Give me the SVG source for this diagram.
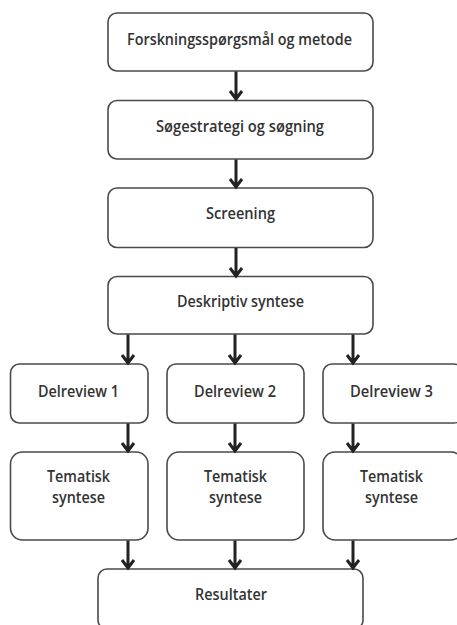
<svg xmlns="http://www.w3.org/2000/svg" width="457" height="625" viewBox="0 0 457 625">
<style>
.box{fill:#ffffff;stroke:#4a4a4a;stroke-width:1.6}
.lbl{font-family:"Open Sans","Liberation Sans",sans-serif;font-size:15.5px;font-weight:600;fill:#333333;text-anchor:middle}
.arr{fill:none;stroke:#222;stroke-width:3;stroke-linejoin:miter}
</style>
<rect width="457" height="625" fill="#ffffff"/>
<g id="n1"><rect class="box" x="108" y="13" width="265" height="58" rx="9"/><text class="lbl" x="239.5" y="44.5" textLength="225" lengthAdjust="spacingAndGlyphs">Forskningsspørgsmål og metode</text></g>
<g id="n2"><rect class="box" x="108" y="100.5" width="265" height="58.5" rx="9"/><text class="lbl" x="240" y="131.5" textLength="168" lengthAdjust="spacingAndGlyphs">Søgestrategi og søgning</text></g>
<g id="n3"><rect class="box" x="108" y="188" width="265" height="59.5" rx="9"/><text class="lbl" x="240.5" y="219" textLength="69" lengthAdjust="spacingAndGlyphs">Screening</text></g>
<g id="n4"><rect class="box" x="108" y="276.5" width="265" height="57.5" rx="9"/><text class="lbl" x="240.5" y="307" textLength="127" lengthAdjust="spacingAndGlyphs">Deskriptiv syntese</text></g>
<g id="d1"><rect class="box" x="10.5" y="364" width="137.5" height="59" rx="9"/><text class="lbl" x="78.5" y="397" textLength="81" lengthAdjust="spacingAndGlyphs">Delreview 1</text></g>
<g id="d2"><rect class="box" x="167" y="364" width="137" height="59" rx="9"/><text class="lbl" x="235" y="397" textLength="82" lengthAdjust="spacingAndGlyphs">Delreview 2</text></g>
<g id="d3"><rect class="box" x="323" y="364" width="140" height="59" rx="9"/><text class="lbl" x="391.5" y="397" textLength="83" lengthAdjust="spacingAndGlyphs">Delreview 3</text></g>
<g id="t1"><rect class="box" x="10.5" y="452" width="137.5" height="88" rx="12"/><text class="lbl" x="78.5" y="482" textLength="63" lengthAdjust="spacingAndGlyphs">Tematisk</text><text class="lbl" x="78.5" y="503" textLength="53" lengthAdjust="spacingAndGlyphs">syntese</text></g>
<g id="t2"><rect class="box" x="167" y="452" width="137" height="88" rx="12"/><text class="lbl" x="235.5" y="482" textLength="63" lengthAdjust="spacingAndGlyphs">Tematisk</text><text class="lbl" x="235.5" y="503" textLength="53" lengthAdjust="spacingAndGlyphs">syntese</text></g>
<g id="t3"><rect class="box" x="323" y="452" width="140" height="88" rx="12"/><text class="lbl" x="391.5" y="482" textLength="63" lengthAdjust="spacingAndGlyphs">Tematisk</text><text class="lbl" x="391.5" y="503" textLength="53" lengthAdjust="spacingAndGlyphs">syntese</text></g>
<g id="r"><rect class="box" x="98" y="569" width="265" height="60" rx="9"/><text class="lbl" x="231" y="600" textLength="72" lengthAdjust="spacingAndGlyphs">Resultater</text></g>
<g id="connectors">
<path class="arr" d="M236 71.5V98M230 91l6 8l6-8"/>
<path class="arr" d="M236 159.5V186M230 179l6 8l6-8"/>
<path class="arr" d="M236 248V275M230 268l6 8l6-8"/>
<path class="arr" d="M128 334.5V362M122 355l6 8l6-8"/>
<path class="arr" d="M235 334.5V362M229 355l6 8l6-8"/>
<path class="arr" d="M353 334.5V362M347 355l6 8l6-8"/>
<path class="arr" d="M128 423.5V450M122 443l6 8l6-8"/>
<path class="arr" d="M235 423.5V450M229 443l6 8l6-8"/>
<path class="arr" d="M353 423.5V450M347 443l6 8l6-8"/>
<path class="arr" d="M128 540.5V567M122 560l6 8l6-8"/>
<path class="arr" d="M235 540.5V567M229 560l6 8l6-8"/>
<path class="arr" d="M353 540.5V567M347 560l6 8l6-8"/>
</g>
</svg>
